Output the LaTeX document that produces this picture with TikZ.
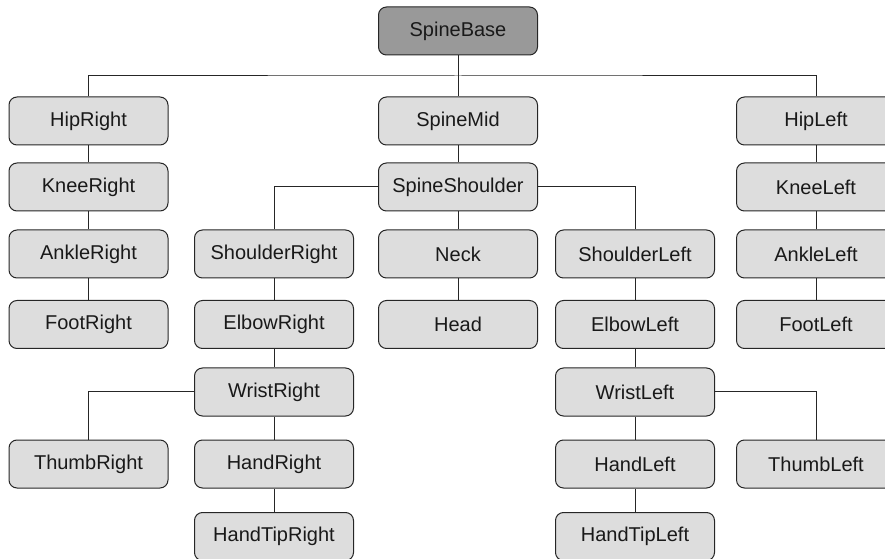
\documentclass[tikz,border=0pt]{standalone}
\usepackage{fontspec}
\setmainfont{Liberation Sans}
\definecolor{jointgray}{HTML}{DDDDDD}
\definecolor{rootgray}{HTML}{999999}
\tikzset{
	joint/.style={draw=black!85, line width=0.75pt, rounded corners=6pt, fill=jointgray, text=black!90,
		minimum width=119.25pt, minimum height=36pt, inner sep=0pt, font=\fontsize{15}{18}\selectfont},
	rootjoint/.style={joint, fill=rootgray},
	bone/.style={draw=black!85, line width=0.75pt}
}

\begin{document}
\begin{tikzpicture}[x=0.75pt, y=-0.75pt]
			%%%%% START %%%%%
			
			\useasboundingbox (0, 0) rectangle (885, 559);
			
			\node[rootjoint] (spinebase) at (458, 31) {SpineBase};
			
			\node[joint] (hipright) at (88.5, 121) {HipRight};
			\node[joint] (kneeright) at (88.5, 187) {KneeRight};
			\node[joint] (ankleright) at (88.5, 254) {AnkleRight};
			\node[joint] (footright) at (88.5, 324.5) {FootRight};
			
			\node[joint] (hipleft) at (816, 121) {HipLeft};
			\node[joint] (kneeleft) at (816, 187) {KneeLeft};
			\node[joint] (ankleleft) at (816, 254) {AnkleLeft};
			\node[joint] (footleft) at (816, 324.5) {FootLeft};
			
			\node[joint] (spinemid) at (458, 121) {SpineMid};
			\node[joint] (spineshoulder) at (458, 187) {SpineShoulder};
			\node[joint] (neck) at (458, 254) {Neck};
			\node[joint] (head) at (458, 324.5) {Head};
			
			\node[joint] (shoulderright) at (274, 254) {ShoulderRight};
			\node[joint] (elbowright) at (274, 324.5) {ElbowRight};
			\node[joint] (wristright) at (274, 392) {WristRight};
			\node[joint] (handright) at (274, 464) {HandRight};
			\node[joint] (handtipright) at (274, 536.5) {HandTipRight};
			\node[joint] (thumbright) at (88.5, 464) {ThumbRight};
			
			\node[joint] (shoulderleft) at (635, 254) {ShoulderLeft};
			\node[joint] (elbowleft) at (635, 324.5) {ElbowLeft};
			\node[joint] (wristleft) at (635, 392) {WristLeft};
			\node[joint] (handleft) at (635, 464) {HandLeft};
			\node[joint] (handtipleft) at (635, 536.5) {HandTipLeft};
			\node[joint] (thumbleft) at (816, 464) {ThumbLeft};
			
			\coordinate (hipbus) at (458, 76);
			
			\draw[bone] (spinebase) -- (hipbus);
			\draw[bone] (hipright.north) |- (hipbus) -| (hipleft.north);
			\draw[bone] (hipbus) -- (spinemid);
			
			\draw[bone] (hipright) -- (kneeright);
			\draw[bone] (kneeright) -- (ankleright);
			\draw[bone] (ankleright) -- (footright);
			
			\draw[bone] (hipleft) -- (kneeleft);
			\draw[bone] (kneeleft) -- (ankleleft);
			\draw[bone] (ankleleft) -- (footleft);
			
			\draw[bone] (spinemid) -- (spineshoulder);
			\draw[bone] (spineshoulder) -- (neck);
			\draw[bone] (neck) -- (head);
			\draw[bone] (spineshoulder.west) -| (shoulderright.north);
			\draw[bone] (spineshoulder.east) -| (shoulderleft.north);
			
			\draw[bone] (shoulderright) -- (elbowright);
			\draw[bone] (elbowright) -- (wristright);
			\draw[bone] (wristright) -- (handright);
			\draw[bone] (handright) -- (handtipright);
			\draw[bone] (wristright.west) -| (thumbright.north);
			
			\draw[bone] (shoulderleft) -- (elbowleft);
			\draw[bone] (elbowleft) -- (wristleft);
			\draw[bone] (wristleft) -- (handleft);
			\draw[bone] (handleft) -- (handtipleft);
			\draw[bone] (wristleft.east) -| (thumbleft.north);
			
			%%%%% END %%%%%
		\end{tikzpicture}
\end{document}
